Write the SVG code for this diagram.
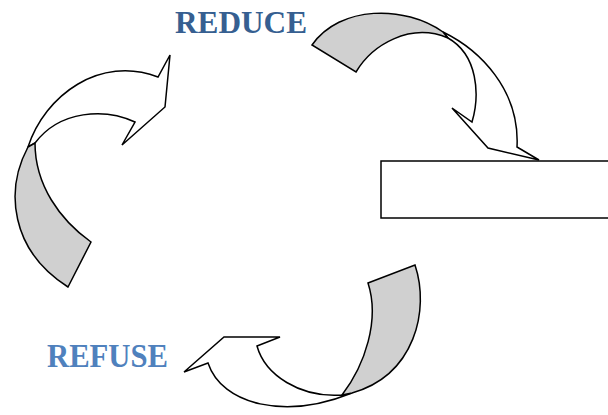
<svg xmlns="http://www.w3.org/2000/svg" width="608" height="415" viewBox="0 0 608 415">
<style>
.band{fill:#ffffff;stroke:#000;stroke-width:1.5;stroke-linejoin:miter}
.shade{fill:#d0d0d0;stroke:#000;stroke-width:1.5;stroke-linejoin:miter}
.lbl{font-family:"Liberation Serif","Times New Roman",serif;font-weight:bold}
</style>
<rect width="608" height="415" fill="#ffffff"/>
<g id="connectors">
<g id="arrow-top">
<path class="band" d="M443,32 C480,50 520,90 517,147 L539,160 L488,148 L452,108 L472,122 C480,95 478,55 448,38 Z"/>
<path class="shade" d="M312,45 C340,5 405,5 443,32 L448,38 C410,22 372,45 356,72 Z"/>
</g>
<g id="arrow-left">
<path class="band" d="M28,147 C45,95 100,55 158,77 L170,55 L165,107 L122,145 L135,122 C105,108 60,110 35,143 Z"/>
<path class="shade" d="M28,147 C5,190 10,250 68,287 L91,242 C60,220 35,185 35,143 Z"/>
</g>
<g id="arrow-bottom">
<path class="band" d="M342,395 C300,398 265,375 257,346 L280,337 L224,337 L184,372 L208,363 C222,405 285,420 352,393 Z"/>
<path class="shade" d="M415,265 C430,310 415,375 352,393 L342,395 C365,365 380,320 368,283 Z"/>
</g>
</g>
<g id="node-box">
<rect x="381" y="161" width="240" height="57" fill="#ffffff" stroke="#000" stroke-width="1.5"/>
</g>
<g id="node-reduce">
<text class="lbl" x="175" y="33" font-size="31" fill="#365f91" textLength="132" lengthAdjust="spacingAndGlyphs">REDUCE</text>
</g>
<g id="node-refuse">
<text class="lbl" x="47" y="367" font-size="33" fill="#4f81bd" textLength="121" lengthAdjust="spacingAndGlyphs">REFUSE</text>
</g>
</svg>
